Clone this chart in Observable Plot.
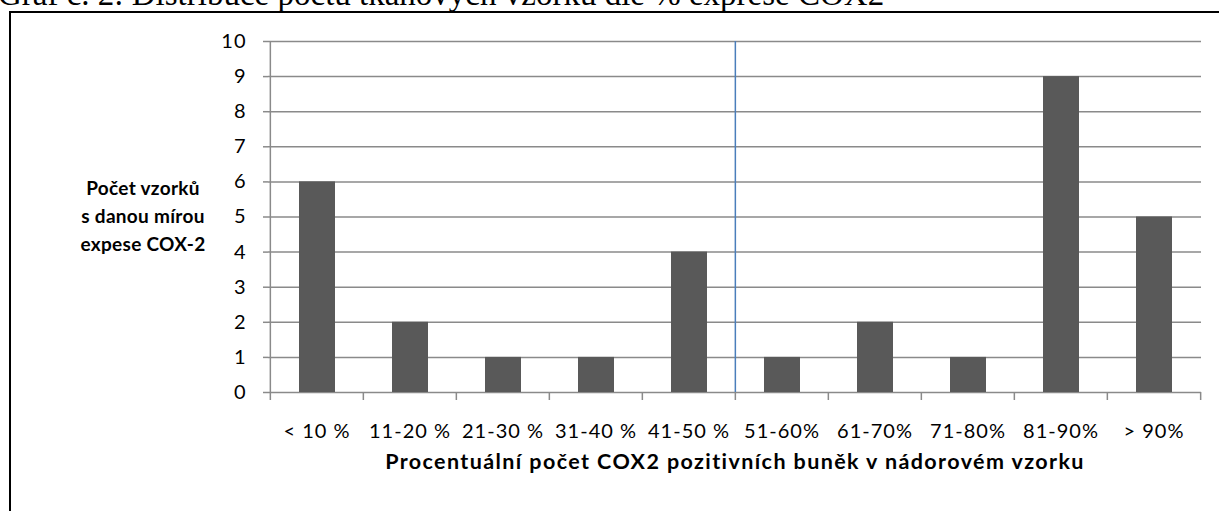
<!DOCTYPE html>
<html><head><meta charset="utf-8">
<script src="https://cdn.jsdelivr.net/npm/d3@7"></script>
<script src="https://cdn.jsdelivr.net/npm/@observablehq/plot@0.6"></script>
<style>
html,body{margin:0;padding:0;background:#fff;overflow:hidden;}
#wrap{position:relative;width:1219px;height:511px;overflow:hidden;}
#title{position:absolute;left:-2px;top:-22px;font-family:"Liberation Serif","Times New Roman",serif;font-size:33px;line-height:33px;white-space:nowrap;color:#000;}
#border{position:absolute;left:9px;top:11px;width:1300px;height:600px;border-left:2px solid #000;border-top:2px solid #000;}
#chart{position:absolute;left:0;top:0;}
#chart svg text{letter-spacing:1px;}
#chart svg text.xtitle{letter-spacing:1.4px;}
.ylab{position:absolute;left:43px;width:200px;top:174px;text-align:center;font-family:Lato,"Open Sans",sans-serif;font-weight:bold;font-size:19px;line-height:28px;letter-spacing:0.3px;color:#000;}
</style></head>
<body><div id="wrap">
<div id="title">Graf č. 2: Distribuce počtu tkáňových vzorků dle % exprese COX2</div>
<div id="border"></div>
<div id="chart"></div>
</div>
<script>
const categories = ["< 10 %", "11-20 %", "21-30 %", "31-40 %", "41-50 %", "51-60%", "61-70%", "71-80%", "81-90%", "> 90%"];
const counts = [6, 2, 1, 1, 4, 1, 2, 1, 9, 5];
const yTicks = [0,1,2,3,4,5,6,7,8,9,10];
const yTitleLines = ["Počet vzorků", "s danou mírou", "expese COX-2"];
const xTitle = "Procentuální počet COX2 pozitivních buněk v nádorovém vzorku";

const data = categories.map((c, i) => ({cat: c, n: counts[i]}));

const W = 1219, H = 511, mL = 268, mR = 18, mT = 41, mB = 119;
const half = (W - mL - mR) / categories.length / 2;
const font = "Lato, 'Open Sans', sans-serif";

const chart = Plot.plot({
  width: W, height: H,
  marginLeft: mL, marginRight: mR, marginTop: mT, marginBottom: mB,
  style: {background: "transparent", fontFamily: font, fontSize: "20px", color: "#000"},
  x: {domain: categories, padding: 0, axis: null},
  y: {domain: [0, 10], axis: null},
  marks: [
    Plot.gridY(yTicks, {stroke: "#8a8a8a", strokeOpacity: 1, strokeWidth: 1.5}),
    Plot.axisY(yTicks, {tickSize: 5, tickPadding: 17, stroke: "#8a8a8a", strokeWidth: 1.5, fontSize: 20, label: null, fill: "#000"}),
    Plot.barY(data, {x: "cat", y: "n", fill: "#595959", insetLeft: 29, insetRight: 28}),
    Plot.ruleX([categories[0]], {dx: -half, y1: 0, y2: 10, stroke: "#8a8a8a", strokeWidth: 1.5}),
    Plot.ruleX([categories[5]], {dx: -half, y1: 0, y2: 10, stroke: "#4a7ebb", strokeWidth: 1.5}),
    Plot.axisX(categories, {tickSize: 8, dx: -half, tickFormat: () => "", stroke: "#8a8a8a", strokeWidth: 1.5, label: null}),
    Plot.axisX([categories[9]], {tickSize: 8, dx: half, tickFormat: () => "", stroke: "#8a8a8a", strokeWidth: 1.5, label: null}),
    Plot.axisX(categories, {tickSize: 0, tickPadding: 31, fontSize: 20, label: null, fill: "#000"}),
    Plot.text([xTitle], {frameAnchor: "bottom", dy: 76, fontWeight: "bold", fontSize: 21.5, fill: "#000"})
  ]
});
document.getElementById("chart").appendChild(chart);
chart.querySelectorAll("g[aria-label='text'] text").forEach(t => t.classList.add("xtitle"));

const yl = document.createElement("div");
yl.className = "ylab";
yl.innerHTML = yTitleLines.join("<br>");
document.getElementById("wrap").appendChild(yl);
</script>
</body></html>
